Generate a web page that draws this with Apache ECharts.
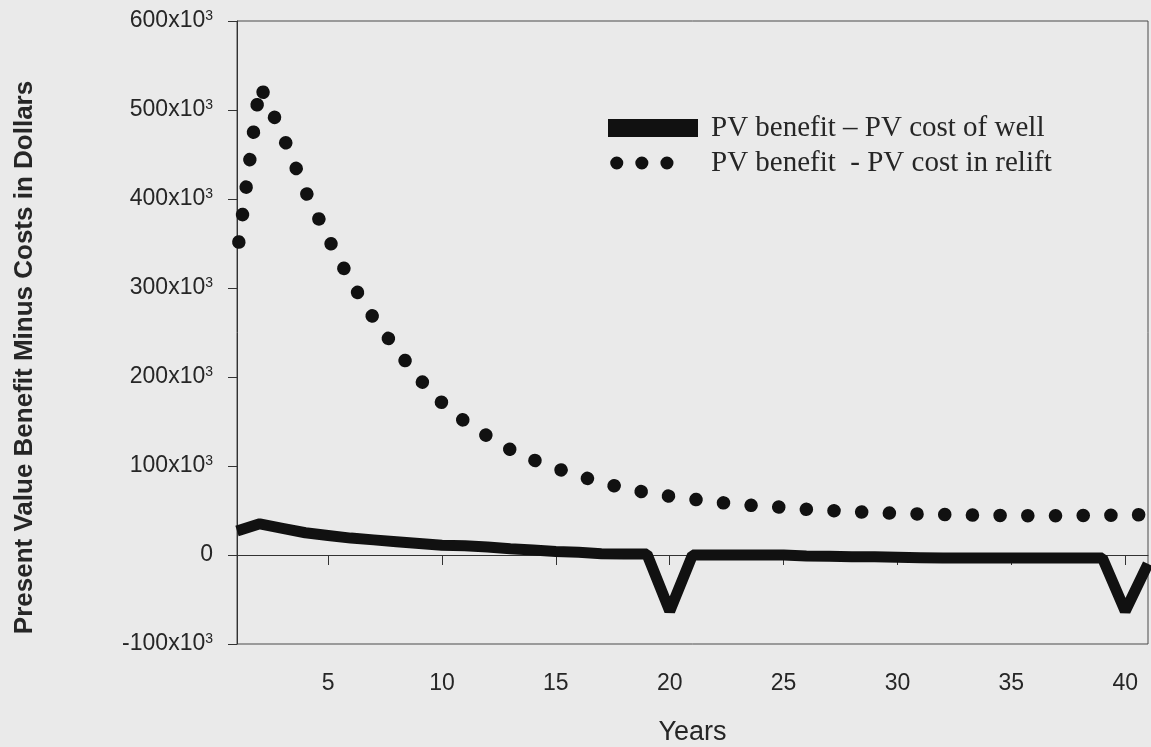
<!DOCTYPE html>
<html>
<head>
<meta charset="utf-8">
<script src="https://cdn.jsdelivr.net/npm/echarts@6/dist/echarts.min.js"></script>
<style>
  html, body { margin: 0; padding: 0; background: #eaeaea; }
  #chart { width: 1151px; height: 747px; }
</style>
</head>
<body>
<div id="chart"></div>
<script>
// years on the x axis
const years = [1, 2, 3, 4, 5, 6, 7, 8, 9, 10, 11, 12, 13, 14, 15, 16, 17, 18, 19, 20,
  21, 22, 23, 24, 25, 26, 27, 28, 29, 30, 31, 32, 33, 34, 35, 36, 37, 38, 39, 40, 41]

// PV benefit – PV cost of well (dollars)
const wellNet = [27000, 35000, 30000, 25000, 22000, 19000, 17000, 15000, 13000, 11000,
  10500, 9000, 7000, 5500, 4000, 3000, 1500, 1000, 1000, -63000,
  0, 0, 0, 0, 0, -1000, -1500, -2000, -2000, -2500,
  -3000, -3500, -3500, -3500, -3500, -3500, -3500, -3500, -3500, -63000, -10000]

// PV benefit - PV cost in relift (dollars)
const reliftNet = [336000, 528000, 472000, 409000, 356000, 307000, 266000, 231000, 198000, 171000,
  150000, 133500, 118500, 107000, 97500, 89000, 81500, 75000, 70000, 66000,
  62800, 59500, 57000, 55000, 53500, 51300, 50000, 48700, 47600, 46800,
  46000, 45500, 45000, 44600, 44300, 44200, 44200, 44300, 44500, 44800, 45500]

const seriesNames = ['PV benefit \u2013 PV cost of well', 'PV benefit  - PV cost in relift']

// tick labels
const xTicks = [5, 10, 15, 20, 25, 30, 35, 40]
const yMin = -100000
const yMax = 600000
const yStep = 100000

const ink = '#262626'
const sans = 'Liberation Sans, Arial, sans-serif'

const chart = echarts.init(document.getElementById('chart'))

const option = {
  backgroundColor: '#eaeaea',
  animation: false,
  grid: {
    left: 237,
    right: 3,
    top: 21,
    bottom: 103,
    outerBoundsMode: 'none',
    containLabel: false,
    show: true,
    borderColor: '#4a4a4a',
    borderWidth: 1
  },
  legend: {
    left: 594,
    top: 107,
    orient: 'vertical',
    itemWidth: 90,
    itemHeight: 18,
    itemGap: 3,
    selectedMode: false,
    itemStyle: { opacity: 0 },
    textStyle: {
      fontFamily: 'Liberation Serif, Times New Roman, serif',
      fontSize: 29,
      lineHeight: 32,
      color: ink,
      padding: [0, 0, 0, 8]
    },
    data: [
      {
        name: seriesNames[0],
        lineStyle: { width: 18, cap: 'butt', type: 'solid', color: '#111', opacity: 1 }
      },
      {
        name: seriesNames[1],
        lineStyle: {
          width: 13,
          cap: 'round',
          color: '#111',
          opacity: 1,
          type: [0.1, 25, 0.1, 25, 0.1, 200],
          dashOffset: -8.7
        }
      }
    ]
  },
  xAxis: {
    type: 'value',
    min: 1,
    max: 41,
    name: 'Years',
    nameLocation: 'middle',
    nameGap: 75,
    nameTextStyle: { fontFamily: sans, fontSize: 27, color: ink },
    axisLine: { lineStyle: { color: '#333', width: 1 } },
    axisTick: { length: 10, lineStyle: { color: '#333' }, customValues: xTicks },
    axisLabel: {
      fontFamily: sans,
      fontSize: 23,
      color: ink,
      margin: 28,
      customValues: xTicks
    },
    splitLine: { show: false }
  },
  yAxis: {
    type: 'value',
    min: yMin,
    max: yMax,
    interval: yStep,
    name: 'Present Value Benefit Minus Costs in Dollars',
    nameLocation: 'middle',
    nameGap: 199,
    nameTextStyle: {
      fontFamily: sans,
      fontSize: 26,
      fontWeight: 'bold',
      color: ink,
      padding: [0, 50, 0, 0]
    },
    axisLine: { show: true, lineStyle: { color: '#333', width: 1 } },
    axisTick: { show: true, length: 9, lineStyle: { color: '#333' } },
    axisLabel: {
      margin: 24,
      formatter: function (v) {
        if (v === 0) return '{n|0}'
        return '{n|' + (v / 1000) + 'x10}{e|3}'
      },
      rich: {
        n: { fontFamily: sans, fontSize: 23, color: ink },
        e: { fontFamily: sans, fontSize: 14, color: ink, verticalAlign: 'top', padding: [0, 0, 6, 0] }
      }
    },
    splitLine: { show: false }
  },
  series: [
    {
      name: seriesNames[0],
      type: 'line',
      data: years.map((y, i) => [y, wellNet[i]]),
      symbol: 'none',
      clip: false,
      itemStyle: { color: '#111' },
      lineStyle: { color: '#111', width: 11, join: 'bevel' },
      z: 3
    },
    {
      name: seriesNames[1],
      type: 'line',
      data: years.map((y, i) => [y, reliftNet[i]]),
      symbol: 'none',
      clip: false,
      itemStyle: { color: '#111' },
      lineStyle: {
        color: '#111',
        width: 13.5,
        type: [0.1, 27.6],
        cap: 'round',
        dashOffset: 13.7
      },
      z: 2
    }
  ]
}

chart.setOption(option)
</script>
</body>
</html>
